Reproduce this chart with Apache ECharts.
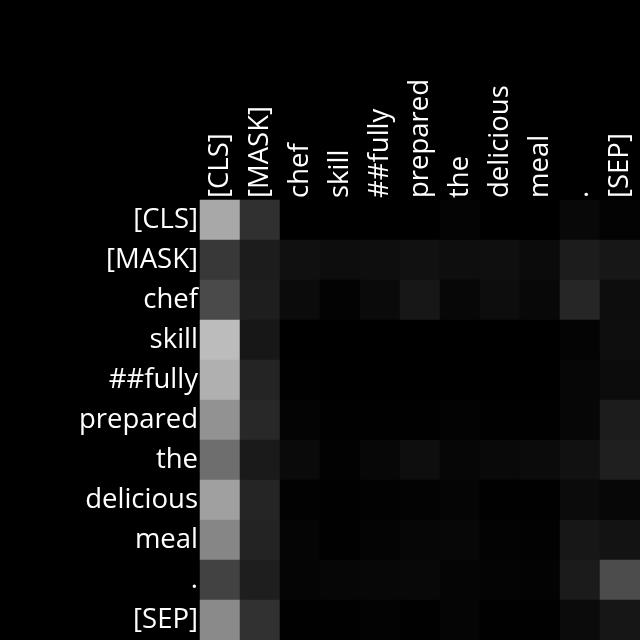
<!DOCTYPE html>
<html><head><meta charset="utf-8">
<script src="https://cdn.jsdelivr.net/npm/echarts@6/dist/echarts.min.js"></script>
<style>html,body{margin:0;padding:0;background:#000;}#c{width:640px;height:640px;}</style>
</head><body><div id="c"></div>
<script>
const tokens = ['[CLS]','[MASK]','chef','skill','##fully','prepared','the','delicious','meal','.','[SEP]'];
// attention weights, one row per query token (0..1)
const rowCLS      = [0.66,0.19,0,0,0,0,0.016,0,0,0.031,0.012];
const rowMASK     = [0.22,0.11,0.063,0.051,0.055,0.067,0.055,0.059,0.043,0.11,0.09];
const rowChef     = [0.29,0.118,0.043,0.012,0.039,0.09,0.027,0.051,0.031,0.149,0.051];
const rowSkill    = [0.737,0.09,0,0,0,0,0,0,0,0.016,0.055];
const rowFully    = [0.69,0.141,0.004,0,0,0,0,0,0,0.024,0.047];
const rowPrepared = [0.573,0.157,0.016,0.004,0.004,0.004,0.012,0.004,0.004,0.024,0.11];
const rowThe      = [0.431,0.102,0.039,0.008,0.027,0.055,0.024,0.035,0.043,0.067,0.122];
const rowDelicious= [0.627,0.145,0.008,0.004,0.008,0.012,0.02,0.004,0.004,0.043,0.027];
const rowMeal     = [0.525,0.137,0.02,0.004,0.016,0.024,0.027,0.012,0.008,0.09,0.075];
const rowDot      = [0.259,0.118,0.02,0.024,0.027,0.031,0.02,0.016,0.012,0.106,0.298];
const rowSEP      = [0.541,0.192,0.004,0.004,0.012,0.004,0.02,0.004,0.004,0.043,0.086];
const rows = [rowCLS,rowMASK,rowChef,rowSkill,rowFully,rowPrepared,rowThe,rowDelicious,rowMeal,rowDot,rowSEP];

const data = [];
rows.forEach((r, yi) => r.forEach((v, xi) => data.push([xi, yi, v])));

const font = '"Open Sans", "Noto Sans", sans-serif';
const chart = echarts.init(document.getElementById('c'));
chart.setOption({
  backgroundColor: '#000',
  animation: false,
  grid: {left: 200, top: 200, right: 0, bottom: 0, containLabel: false},
  xAxis: {
    type: 'category', data: tokens, position: 'top',
    axisLine: {show: false}, axisTick: {show: false}, splitLine: {show: false},
    axisLabel: {rotate: -90, color: '#ffffff', fontSize: 27.5, fontFamily: font, margin: 2, interval: 0}
  },
  yAxis: {
    type: 'category', data: tokens, inverse: true,
    axisLine: {show: false}, axisTick: {show: false}, splitLine: {show: false},
    axisLabel: {color: '#ffffff', fontSize: 27.5, fontFamily: font, margin: 2, interval: 0}
  },
  visualMap: {show: false, min: 0, max: 1, inRange: {color: ['#000000', '#ffffff']}},
  series: [{type: 'heatmap', data: data, itemStyle: {borderWidth: 0}, emphasis: {disabled: true}}]
});
</script></body></html>
